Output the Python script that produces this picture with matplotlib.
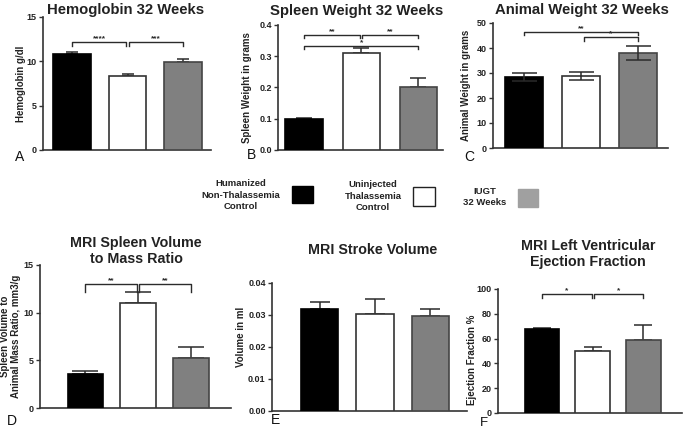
import matplotlib
matplotlib.use("Agg")
import matplotlib.pyplot as plt
from matplotlib.patches import Rectangle

plt.rcParams['font.family'] = ['Liberation Sans', 'DejaVu Sans']

W, H = 685, 429
fig = plt.figure(figsize=(W / 100, H / 100), dpi=100)

groups = ["Humanized\nNon-Thalassemia\nControl", "Uninjected\nThalassemia\nControl", "IUGT\n32 Weeks"]

# Data (mean, SEM)
hgb_mean = [10.85, 8.4, 9.9]
hgb_err = [0.2, 0.17, 0.33]
spleen_mean = [0.099, 0.309, 0.200]
spleen_err = [0.003, 0.018, 0.029]
animal_mean = [28.4, 28.9, 38.0]
animal_err = [1.6, 1.5, 2.9]
mri_spleen_mean = [3.6, 11.0, 5.2]
mri_spleen_err = [0.25, 1.15, 1.15]
stroke_mean = [0.0319, 0.0304, 0.0297]
stroke_err = [0.0021, 0.0045, 0.0021]
ef_mean = [67.6, 50.3, 58.9]
ef_err = [1.0, 2.9, 12.2]

fills = ["#000000", "#ffffff", "#808080"]
edges = ["#000000", "#333333", "#444444"]
legend_fill = ["#000000", "#ffffff", "#a0a0a0"]
DK = "#2b2b2b"


def px_axes(left, right, top, bottom):
    return fig.add_axes([left / W, 1 - bottom / H, (right - left) / W, (bottom - top) / H])


def panel(ax, means, errs, ylim, yticks, yticklabels, xlim, width, ylabel, capsize,
          label_xy, both=False):
    x = [0, 1, 2]
    ax.bar(x, means, width=width, color=fills, edgecolor=edges, linewidth=1.2, zorder=3)
    for xi, m, e in zip(x, means, errs):
        if both:
            ax.errorbar(xi, m, yerr=e, fmt='none', ecolor=DK, elinewidth=1.1,
                        capsize=capsize, capthick=1.1, zorder=4)
        else:
            ax.errorbar(xi, m, yerr=[[0], [e]], fmt='none', ecolor=DK, elinewidth=1.1,
                        capsize=capsize, capthick=1.1, zorder=2)
    ax.set_xlim(*xlim)
    ax.set_ylim(*ylim)
    ax.set_yticks(yticks)
    ax.set_yticklabels(yticklabels, fontsize=6.5, fontweight='bold', color='#222222')
    ax.set_xticks([])
    for s in ['top', 'right']:
        ax.spines[s].set_visible(False)
    for s in ['left', 'bottom']:
        ax.spines[s].set_color('#333333')
        ax.spines[s].set_linewidth(1.2)
    ax.tick_params(axis='y', length=3, width=1.0, color='#333333', pad=1.5)
    ax.set_ylabel(ylabel, fontsize=7, fontweight='bold', color='#222222',
                  va='center', linespacing=1.1)
    ax.yaxis.set_label_coords(*label_xy)
    ax.patch.set_alpha(0)


def bracket(ax, x1, x2, y, tip, label, fs=6, ly=None):
    ax.plot([x1, x1, x2, x2], [y - tip, y, y, y - tip], color=DK, lw=1.0, zorder=5,
            clip_on=False)
    ax.text((x1 + x2) / 2, y if ly is None else ly, label, ha='center', va='bottom',
            fontsize=fs, fontweight='bold', color=DK, clip_on=False)


def ptext(x, y, s, **kw):
    fig.text(x / W, 1 - y / H, s, **kw)


# ---- A ----
axA = px_axes(43, 211, 17, 150)
panel(axA, hgb_mean, hgb_err, (0, 15), [0, 5, 10, 15], ['0', '5', '10', '15'],
      (-0.52, 2.5), 0.68, 'Hemoglobin g/dl', 4.5, (-0.131, 0.50))
bracket(axA, 0, 0.98, 12.2, 0.45, '****')
bracket(axA, 1.02, 2, 12.2, 0.45, '***')

# ---- B ----
axB = px_axes(278, 443, 25, 150)
panel(axB, spleen_mean, spleen_err, (0, 0.4), [0, 0.1, 0.2, 0.3, 0.4],
      ['0.0', '0.1', '0.2', '0.3', '0.4'], (-0.46, 2.43), 0.66,
      'Spleen Weight in grams', 6, (-0.186, 0.50))
bracket(axB, 0, 0.98, 0.368, 0.01, '**')
bracket(axB, 1.02, 2, 0.368, 0.01, '**')
bracket(axB, 0, 2, 0.333, 0.01, '*', ly=0.333)

# ---- C ----
axC = px_axes(493, 668, 23, 148)
panel(axC, animal_mean, animal_err, (0, 50), [0, 10, 20, 30, 40, 50],
      ['0', '10', '20', '30', '40', '50'], (-0.54, 2.53), 0.67,
      'Animal Weight in grams', 9, (-0.154, 0.50), both=True)
bracket(axC, 0, 2, 46.4, 1.3, '**')
bracket(axC, 1.05, 2, 44.4, 1.5, '*')

# ---- D ----
axD = px_axes(40, 231, 265, 408)
panel(axD, mri_spleen_mean, mri_spleen_err, (0, 15), [0, 5, 10, 15], ['0', '5', '10', '15'],
      (-0.86, 2.76), 0.67, 'Spleen Volume to\nAnimal Mass Ratio, mm3/g', 9.5,
      (-0.155, 0.50))
bracket(axD, 0, 0.98, 13.0, 0.8, '**')
bracket(axD, 1.02, 2, 13.0, 0.8, '**')

# ---- E ----
axE = px_axes(272, 467, 283, 411)
panel(axE, stroke_mean, stroke_err, (0, 0.04), [0, 0.01, 0.02, 0.03, 0.04],
      ['0.00', '0.01', '0.02', '0.03', '0.04'], (-0.86, 2.66), 0.68,
      'Volume in ml', 7, (-0.159, 0.58))

# ---- F ----
axF = px_axes(498, 682, 289, 413)
panel(axF, ef_mean, ef_err, (0, 100), [0, 20, 40, 60, 80, 100],
      ['0', '20', '40', '60', '80', '100'], (-0.87, 2.77), 0.69,
      'Ejection Fraction %', 6.5, (-0.141, 0.43))
bracket(axF, 0, 0.98, 96, 3.5, '*')
bracket(axF, 1.02, 2, 96, 3.5, '*')

# ---- titles ----
tkw = dict(ha='center', va='center', fontsize=10.7, fontweight='bold', color='#222222')
ptext(126, 10, 'Hemoglobin 32 Weeks', **tkw)
ptext(357, 11, 'Spleen Weight 32 Weeks', **tkw)
ptext(582, 10, 'Animal Weight 32 Weeks', **tkw)
bkw = dict(ha='center', va='center', fontsize=10.3, fontweight='bold', color='#222222',
           linespacing=1.15)
ptext(136, 251, 'MRI Spleen Volume\nto Mass Ratio', **bkw)
ptext(373, 250, 'MRI Stroke Volume', **bkw)
ptext(588, 254, 'MRI Left Ventricular\nEjection Fraction', **bkw)

# ---- panel letters ----
lkw = dict(ha='center', va='bottom', fontsize=10, color='#111111')
for (lx, ly, l) in [(20, 164, 'A'), (251, 162, 'B'), (469, 164, 'C'),
                    (12, 428, 'D'), (275, 427, 'E')]:
    ptext(lx, ly, l, **lkw)
ptext(484, 429, 'F', ha='center', va='bottom', fontsize=9.5, color='#111111')

# ---- legend ----
gkw = dict(ha='center', va='center', fontsize=6.8, fontweight='bold', color='#222222',
           linespacing=1.3)
ptext(241, 195, groups[0], **gkw)
ptext(373, 196, groups[1], **gkw)
ptext(485, 197, groups[2], **gkw)
for (x0, y0, w, h), fc in zip([(292, 186, 21, 17), (413, 187, 22, 19), (518, 189, 20, 18)],
                              legend_fill):
    fig.patches.append(Rectangle((x0 / W, 1 - (y0 + h) / H), w / W, h / H,
                                 transform=fig.transFigure, facecolor=fc,
                                 edgecolor='#222222' if fc == '#ffffff' else fc,
                                 linewidth=1.0))

fig.savefig('out.png', dpi=100)
